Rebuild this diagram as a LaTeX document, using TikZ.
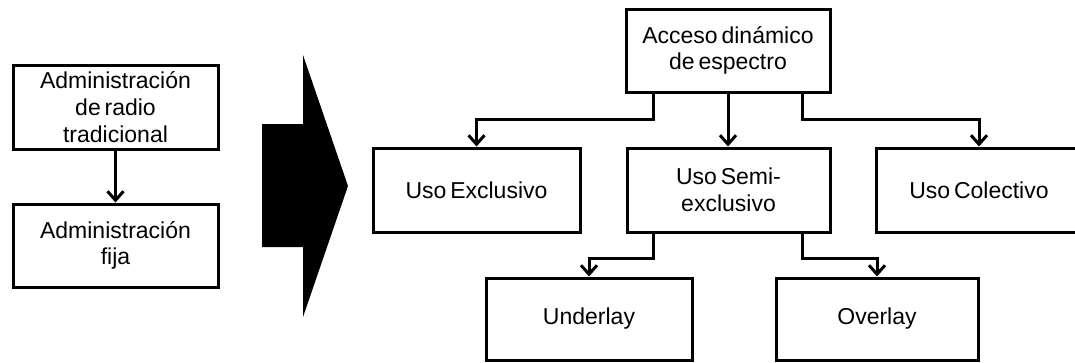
\documentclass[tikz,border=0pt]{standalone}
\usepackage{fontspec}
\setmainfont{Liberation Sans}[WordSpace=0.6]
\usetikzlibrary{arrows.meta}

\begin{document}
\begin{tikzpicture}[x=1pt,y=-1pt,line width=3pt,
  box/.style={draw, rectangle, align=center, inner sep=0pt,
    font=\fontsize{23}{26.7}\selectfont},
  link/.style={-{Straight Barb[length=9pt,width=16pt]}, line width=3pt}]
\useasboundingbox (0,0) rectangle (1075,362);

% left column: traditional administration
\node[box, minimum width=205pt, minimum height=84pt] (trad) at (115.5,107)
  {Administración\\de radio\\tradicional};
\node[box, minimum width=205pt, minimum height=83pt] (fija) at (115.5,245.5)
  {Administración\\fija};
\draw[link] (trad) -- (fija);

% big transition arrow
\fill (262,124) -- (303,124) -- (303,55) -- (348,186) -- (303,317)
  -- (303,247) -- (262,247) -- cycle;

% right tree: dynamic spectrum access
\node[box, minimum width=204pt, minimum height=83pt] (top) at (728,50.5)
  {Acceso dinámico\\de espectro};
\node[box, minimum width=207pt, minimum height=84pt] (excl) at (476.5,190)
  {Uso Exclusivo};
\node[box, minimum width=203pt, minimum height=84pt] (semi) at (728.5,190)
  {Uso Semi-\\exclusivo};
\node[box, minimum width=206pt, minimum height=84pt] (colec) at (979,190)
  {Uso Colectivo};
\node[box, minimum width=206pt, minimum height=82pt] (under) at (589,319)
  {Underlay};
\node[box, minimum width=202pt, minimum height=82pt] (over) at (877,319)
  {Overlay};

% connector bends
\coordinate (busL) at (653,119);
\coordinate (busR) at (802,119);
\coordinate (subL) at (653,258);
\coordinate (subR) at (802,258);

\draw[link] (top.south -| busL) -- (busL) -| (excl.north);
\draw[link] (top.south) -- (top.south |- semi.north);
\draw[link] (top.south -| busR) -- (busR) -| (colec.north);
\draw[link] (semi.south -| subL) -- (subL) -| (under.north);
\draw[link] (semi.south -| subR) -- (subR) -| (over.north);
\end{tikzpicture}
\end{document}
